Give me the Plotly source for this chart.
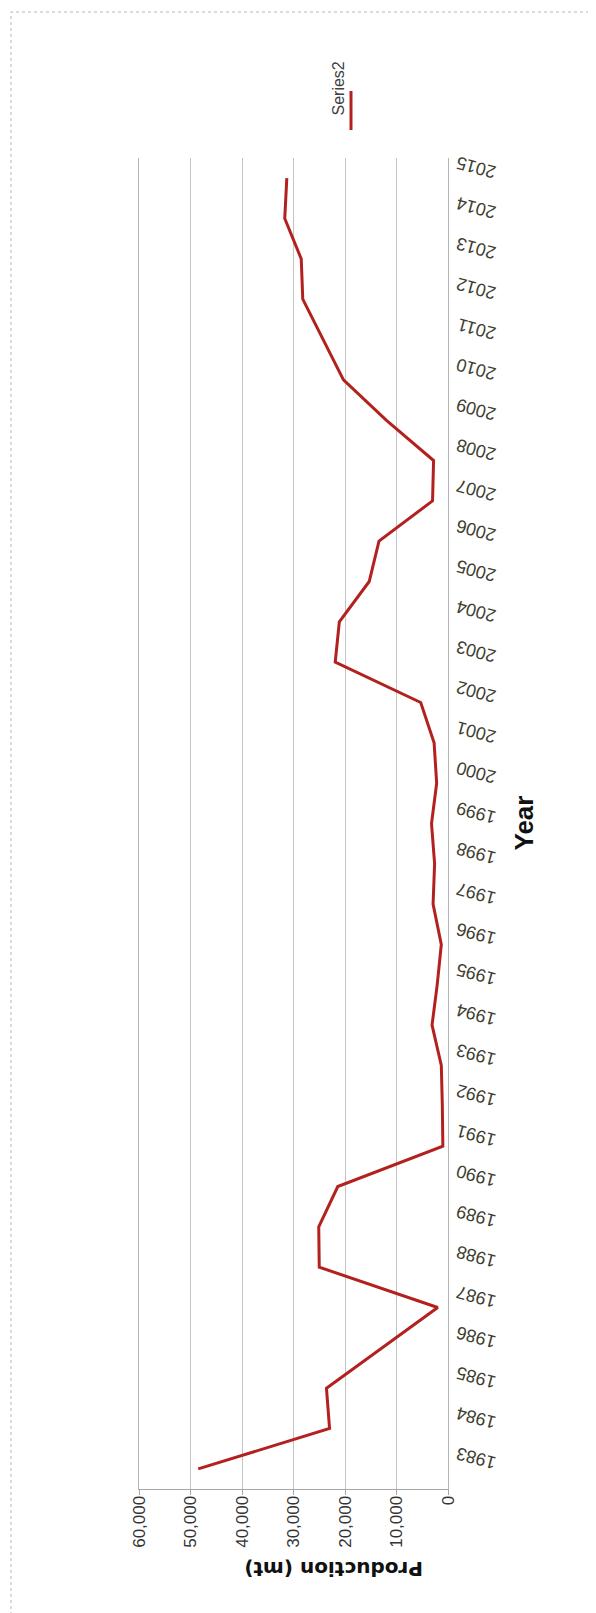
import plotly.graph_objects as go

years = list(range(1983, 2016))
production = [48500, 23000, 23600, 12800, 2000, 25000, 25100, 21400,
              1000, 1100, 1300, 3100, 2100, 1300, 2900, 2600, 3200,
              2200, 2700, 5300, 21900, 21100, 15300, 13400, 3000, 2800,
              12000, 20300, 24200, 28200, 28500, 31700, 31300]
prod_ticks = [0, 10000, 20000, 30000, 40000, 50000, 60000]
series_name = "Series2"

W, H = 596, 1613
L, R, T, B = 131, 440, 150, 1481

def px(xp):
    return (xp - L) / (R - L)

def py(yp):
    return (B - yp) / (B - T)

fig = go.Figure()
fig.add_trace(go.Scatter(
    x=production, y=years, mode="lines", name=series_name,
    line=dict(color="#b3211f", width=3), showlegend=False,
))

fig.update_layout(
    width=W, height=H,
    margin=dict(l=L, r=W - R, t=T, b=H - B),
    paper_bgcolor="white", plot_bgcolor="white",
    font=dict(family="Liberation Sans", color="#404040"),
    xaxis=dict(
        range=[60000, 0], tickvals=prod_ticks, tickformat=",",
        tickangle=-90, showgrid=True, gridcolor="#c4c4c4", gridwidth=1,
        zeroline=False, showline=True, linecolor="#a8a8a8", linewidth=1,
        ticks="outside", ticklen=5, tickcolor="#a8a8a8",
        ticklabelstandoff=-6,
        tickfont=dict(family="Liberation Sans", size=17, color="#333333"),
    ),
    yaxis=dict(
        range=[1982.5, 2015.5], tickvals=years, side="right",
        tickangle=-165, showgrid=False, zeroline=False,
        showline=True, mirror=True, linecolor="#b4b4b4", linewidth=1,
        ticks="", ticklabelstandoff=42,
        tickfont=dict(family="Liberation Sans", size=18, color="#3e3e30"),
    ),
)

annotations = [
    dict(text="<b>Year</b>", x=px(532), y=0.5, xref="paper", yref="paper",
         showarrow=False, textangle=-90,
         font=dict(family="Liberation Sans", size=26, color="#111111")),
    dict(text="<b>Production (mt)</b>", x=px(326), y=py(1575),
         xref="paper", yref="paper", showarrow=False, textangle=180,
         font=dict(family="DejaVu Sans", size=20, color="#111111")),
    dict(text=series_name, x=px(341), y=py(52), xref="paper", yref="paper",
         showarrow=False, textangle=-90,
         font=dict(family="Liberation Sans", size=16, color="#404040")),
]
fig.update_layout(annotations=annotations)

fig.add_shape(type="line", xref="paper", yref="paper",
              x0=px(343), x1=px(343), y0=py(83), y1=py(122),
              line=dict(color="#b3211f", width=3))
fig.add_shape(type="rect", xref="paper", yref="paper",
              x0=px(3), x1=px(588), y0=py(1608), y1=py(4),
              line=dict(color="#b8b8b8", width=1, dash="dot"))

fig.write_html("out.html")
